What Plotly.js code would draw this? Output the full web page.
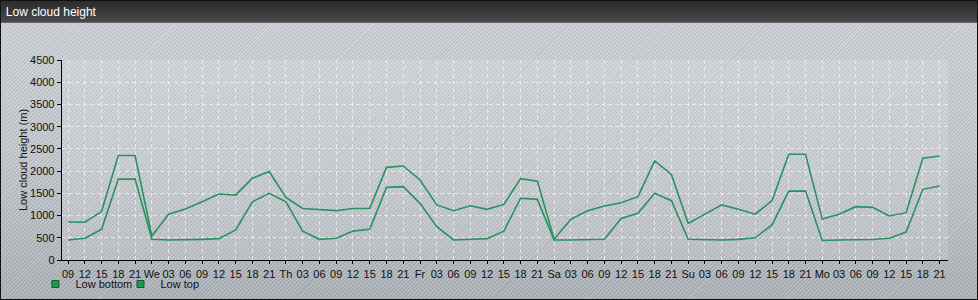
<!DOCTYPE html>
<html>
<head>
<meta charset="utf-8">
<script src="https://cdn.plot.ly/plotly-3.0.1.min.js"></script>
<style>
  html, body { margin:0; padding:0; }
  body { width:978px; height:300px; overflow:hidden; }
  #wrap {
    position:relative; width:976px; height:298px; border:1px solid #111;
    background:
      repeating-linear-gradient(135deg, rgba(255,255,255,0.16) 0px, rgba(255,255,255,0.16) 1.4px, rgba(90,100,125,0.10) 1.4px, rgba(90,100,125,0.10) 2.8px),
      linear-gradient(to bottom, #cdd0d4 0%, #c2c6ca 50%, #a9aeb3 100%);
  }
  #hdr {
    position:absolute; left:0; top:0; width:976px; height:21px;
    background:linear-gradient(to bottom, #2b2b2b 0%, #3a3a3a 50%, #4a4a4a 100%);
    border-bottom:1px solid #666;
  }
  #chart { position:absolute; left:-1px; top:-1px; width:978px; height:300px; }
</style>
</head>
<body>
<div id="wrap"><div id="hdr"></div><div id="chart"></div></div>
<script>
// Tick labels (3-hourly steps)
const tickLabels = ["09","12","15","18","21",
  "We","03","06","09","12","15","18","21",
  "Th","03","06","09","12","15","18","21",
  "Fr","03","06","09","12","15","18","21",
  "Sa","03","06","09","12","15","18","21",
  "Su","03","06","09","12","15","18","21",
  "Mo","03","06","09","12","15","18","21"];

// Low cloud bottom (m)
const lowBottom = [450,490,690,1820,1820,
  465,450,450,465,480,675,1310,1500,
  1310,650,465,490,650,690,1635,1650,
  1275,750,450,460,480,650,1390,1365,
  450,450,450,465,935,1050,1500,1335,
  465,450,450,465,500,790,1550,1550,
  440,450,450,460,490,630,1590,1665];

// Low cloud top (m)
const lowTop = [855,850,1090,2350,2350,
  540,1030,1150,1310,1485,1460,1840,1990,
  1410,1160,1140,1110,1160,1160,2085,2115,
  1800,1240,1110,1220,1140,1250,1830,1775,
  465,915,1110,1215,1290,1425,2230,1925,
  825,1035,1240,1140,1030,1335,2380,2380,
  920,1030,1200,1185,990,1065,2290,2340];

const xIdx = tickLabels.map((_, i) => i);
const lineColor = "#2a9160";
const font = "Liberation Sans, Arial, sans-serif";
const legMarker = {symbol:"square", size:7, color:"#1a9a52", line:{color:"#0d5e30", width:1}};

const traces = [
  { x:xIdx, y:lowBottom, mode:"lines", name:"Low bottom", showlegend:false, legendgroup:"b",
    line:{color:lineColor, width:1.6}, hoverinfo:"x+y" },
  { x:xIdx, y:lowTop, mode:"lines", name:"Low top", showlegend:false, legendgroup:"t",
    line:{color:lineColor, width:1.6}, hoverinfo:"x+y" },
  { x:[null], y:[null], mode:"markers", name:"Low bottom", legendgroup:"b", legend:"legend",
    marker:legMarker },
  { x:[null], y:[null], mode:"markers", name:"Low top", legendgroup:"t", legend:"legend2",
    marker:legMarker }
];

const legBase = {orientation:"h", xanchor:"left", yanchor:"middle",
  bgcolor:"rgba(0,0,0,0)", font:{family:font, size:11, color:"#111"},
  itemwidth:30, tracegroupgap:0, itemclick:false};

const layout = {
  width:978, height:300,
  margin:{l:62, r:30, t:60, b:40, pad:0, autoexpand:false},
  paper_bgcolor:"rgba(0,0,0,0)",
  plot_bgcolor:"rgba(255,255,255,0.13)",
  font:{family:font, size:11, color:"#111"},
  title:{text:"Low cloud height", font:{family:font, size:12, color:"#ffffff"},
    xref:"container", yref:"container", x:0.006, xanchor:"left", y:0.96, yanchor:"middle"},
  xaxis:{
    range:[-0.36, 52.5], tickmode:"array", tickvals:xIdx, ticktext:tickLabels,
    showline:true, linecolor:"#000", linewidth:1.3,
    ticks:"outside", ticklen:3, tickcolor:"#000", tickwidth:1,
    showgrid:true, gridcolor:"rgba(255,255,255,0.55)", griddash:"4px,3px", gridwidth:1,
    zeroline:false, tickangle:0, automargin:false, tickfont:{family:font, size:11, color:"#111"}
  },
  yaxis:{
    range:[0, 4500], tickmode:"linear", tick0:0, dtick:500,
    showline:true, linecolor:"#000", linewidth:1.3,
    ticks:"outside", ticklen:4, tickcolor:"#000", tickwidth:1,
    showgrid:true, gridcolor:"rgba(255,255,255,0.55)", griddash:"4px,3px", gridwidth:1,
    zeroline:false, automargin:false, tickfont:{family:font, size:11, color:"#111"},
    title:{text:"Low cloud height (m)", font:{family:font, size:11, color:"#111"}, standoff:0}
  },
  showlegend:true,
  legend:Object.assign({}, legBase, {x:-0.030, y:-0.12}),
  legend2:Object.assign({}, legBase, {x:0.066, y:-0.12})
};

Plotly.newPlot("chart", traces, layout, {displayModeBar:false, staticPlot:true});
</script>
</body>
</html>
